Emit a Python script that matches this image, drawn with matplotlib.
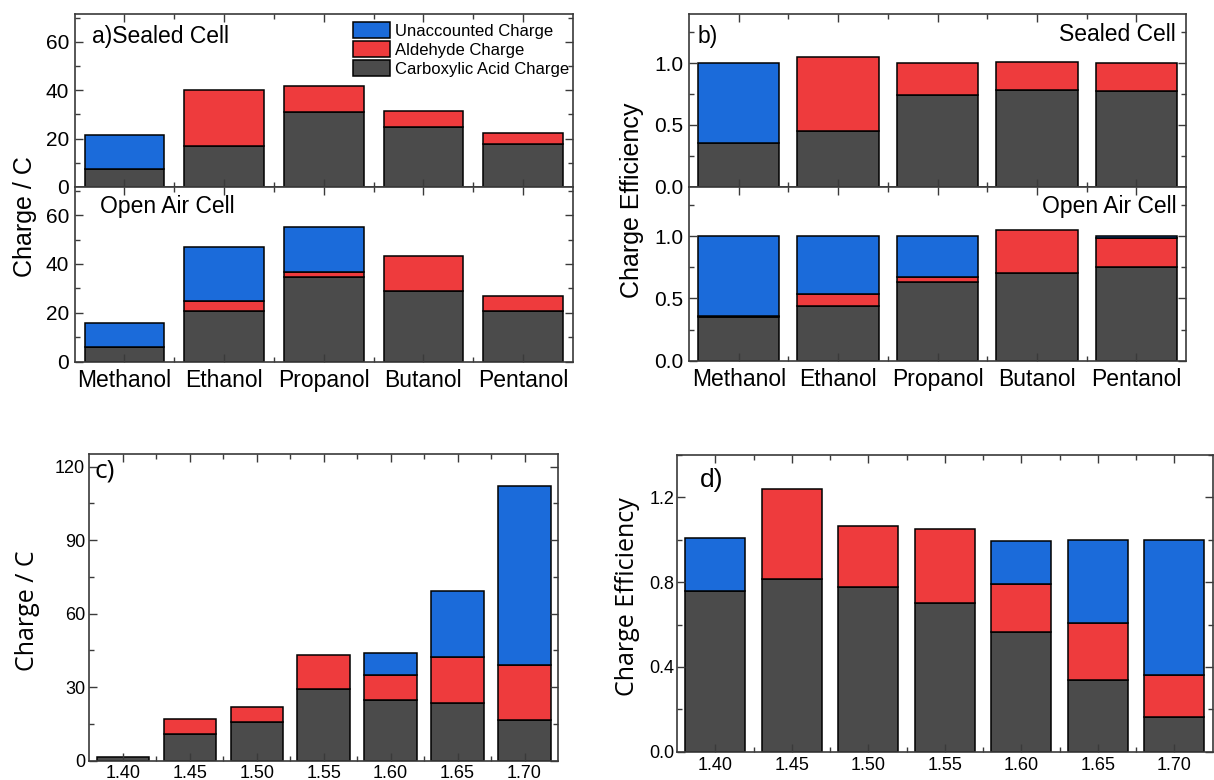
import numpy as np
import matplotlib
matplotlib.use("Agg")
import matplotlib.pyplot as plt
from matplotlib import font_manager
from matplotlib.patches import Patch
from matplotlib.ticker import MultipleLocator, FormatStrFormatter

# ---------------- data ----------------
alcohols = ["Methanol", "Ethanol", "Propanol", "Butanol", "Pentanol"]

# charge (C), sealed cell
sealed_acid = [7.4, 17.1, 30.9, 24.7, 17.7]
sealed_ald = [0.0, 23.1, 10.9, 6.9, 4.7]
sealed_unacc = [14.0, 0.0, 0.0, 0.0, 0.0]

# charge (C), open air cell
open_acid = [5.9, 20.6, 34.5, 28.8, 20.6]
open_ald = [0.2, 4.4, 2.1, 14.3, 6.4]
open_unacc = [9.7, 21.8, 18.6, 0.0, 0.0]

# charge efficiency, sealed cell
sealed_eff_acid = [0.355, 0.45, 0.74, 0.786, 0.775]
sealed_eff_ald = [0.0, 0.60, 0.26, 0.221, 0.225]
sealed_eff_unacc = [0.645, 0.0, 0.0, 0.0, 0.0]

# charge efficiency, open air cell
open_eff_acid = [0.35, 0.442, 0.63, 0.706, 0.757]
open_eff_ald = [0.012, 0.095, 0.04, 0.348, 0.233]
open_eff_unacc = [0.638, 0.463, 0.33, 0.0, 0.01]

# potential series
potentials = ["1.40", "1.45", "1.50", "1.55", "1.60", "1.65", "1.70"]
pot_acid = [1.6, 10.9, 15.7, 29.2, 24.8, 23.4, 16.8]
pot_ald = [0.0, 6.0, 6.4, 13.8, 10.1, 18.9, 22.4]
pot_unacc = [0.0, 0.0, 0.0, 0.0, 9.1, 27.1, 73.0]

pot_eff_acid = [0.756, 0.817, 0.775, 0.70, 0.565, 0.34, 0.163]
pot_eff_ald = [0.0, 0.423, 0.292, 0.349, 0.225, 0.267, 0.201]
pot_eff_unacc = [0.251, 0.0, 0.0, 0.0, 0.206, 0.393, 0.636]

series_names = ["Unaccounted Charge", "Aldehyde Charge", "Carboxylic Acid Charge"]

# ---------------- style ----------------
C_UNACC = "#1B6BDA"
C_ALD = "#EE3B3D"
C_ACID = "#4B4B4B"
SPINE = "#3a3a3a"

names = {f.name for f in font_manager.fontManager.ttflist}
MAIN = "Liberation Sans" if "Liberation Sans" in names else "DejaVu Sans"
ROUND = "Open Sans" if "Open Sans" in names else MAIN

plt.rcParams["font.family"] = [MAIN, "DejaVu Sans"]

W, H = 1214, 780
fig = plt.figure(figsize=(W / 100, H / 100), dpi=100)


def px_axes(left, top, right, bottom):
    return fig.add_axes([left / W, 1 - bottom / H, (right - left) / W, (bottom - top) / H])


def stack(ax, acid, ald, unacc, width):
    acid = np.asarray(acid, float)
    ald = np.asarray(ald, float)
    unacc = np.asarray(unacc, float)
    x = np.arange(len(acid))
    kw = dict(width=width, edgecolor="black", linewidth=1.1)
    bottoms = np.zeros(len(acid))
    for vals, col in ((acid, C_ACID), (ald, C_ALD), (unacc, C_UNACC)):
        m = vals > 0
        ax.bar(x[m], vals[m], bottom=bottoms[m], color=col, **kw)
        bottoms = bottoms + vals
    ax.set_xlim(-0.5, len(acid) - 0.5)


def style(ax, ymax, major, minor, labelsize, xlabels=None, xlabelsize=None,
          ypad=4, xpad=4):
    ax.set_ylim(0, ymax)
    ax.yaxis.set_major_locator(MultipleLocator(major))
    ax.yaxis.set_minor_locator(MultipleLocator(minor))
    n = int(round(ax.get_xlim()[1] + 0.5))
    ax.set_xticks(np.arange(n))
    ax.set_xticks(np.arange(n - 1) + 0.5, minor=True)
    if xlabels is not None:
        ax.set_xticklabels(xlabels, fontsize=xlabelsize)
    else:
        ax.set_xticklabels([])
    ax.tick_params(which="both", direction="in", top=True, right=True,
                   color=SPINE, width=1.0)
    ax.tick_params(which="major", length=6)
    ax.tick_params(which="minor", length=3.5)
    ax.tick_params(axis="y", labelsize=labelsize, pad=ypad)
    ax.tick_params(axis="x", pad=xpad)
    for s in ax.spines.values():
        s.set_color(SPINE)
        s.set_linewidth(1.2)


def ftext(x, y, s, **kw):
    fig.text(x / W, 1 - y / H, s, **kw)


# ---------------- panel a ----------------
ax_a1 = px_axes(74.6, 14, 572.9, 187)
ax_a2 = px_axes(74.6, 187, 572.9, 361.7)
stack(ax_a1, sealed_acid, sealed_ald, sealed_unacc, 0.8)
stack(ax_a2, open_acid, open_ald, open_unacc, 0.8)
style(ax_a1, 71.5, 20, 10, 15)
style(ax_a2, 71.5, 20, 10, 15, alcohols, 16.5, xpad=5)

handles = [Patch(facecolor=c, edgecolor="black", linewidth=1.1)
           for c in (C_UNACC, C_ALD, C_ACID)]
ax_a1.legend(handles, series_names, loc="upper left",
             bbox_to_anchor=(0.559, 0.954), frameon=False, borderpad=0,
             borderaxespad=0, handlelength=2.2, handleheight=1.15,
             labelspacing=0.12, handletextpad=0.3,
             prop=dict(family=MAIN, size=12))

ftext(92, 25, "a)Sealed Cell", fontsize=16.5, va="top", ha="left")
ftext(100, 195, "Open Air Cell", fontsize=16.5, va="top", ha="left")
ftext(25, 217, "Charge / C", fontsize=18, rotation=90, ha="center", va="center")

# ---------------- panel b ----------------
ax_b1 = px_axes(689, 14, 1186, 186.5)
ax_b2 = px_axes(689, 186.5, 1186, 360.7)
stack(ax_b1, sealed_eff_acid, sealed_eff_ald, sealed_eff_unacc, 0.82)
stack(ax_b2, open_eff_acid, open_eff_ald, open_eff_unacc, 0.82)
style(ax_b1, 1.4, 0.5, 0.25, 15)
style(ax_b2, 1.4, 0.5, 0.25, 15, alcohols, 16.5, xpad=5)
for ax in (ax_b1, ax_b2):
    ax.yaxis.set_major_formatter(FormatStrFormatter("%.1f"))

ftext(698, 25, "b)", fontsize=16.5, va="top", ha="left")
ftext(1176, 23, "Sealed Cell", fontsize=16.5, va="top", ha="right")
ftext(1177, 195, "Open Air Cell", fontsize=16.5, va="top", ha="right")
ftext(632, 200, "Charge Efficiency", fontsize=18, rotation=90,
      ha="center", va="center")

# ---------------- panel c ----------------
ax_c = px_axes(89.2, 454.3, 558, 760.7)
stack(ax_c, pot_acid, pot_ald, pot_unacc, 0.78)
style(ax_c, 125, 30, 15, 13, potentials, 13, ypad=3, xpad=3)
ftext(94, 458, "c)", fontsize=19, va="top", ha="left", family=ROUND)
ftext(27, 611, "Charge / C", fontsize=18, rotation=90, ha="center",
      va="center", family=ROUND)

# ---------------- panel d ----------------
ax_d = px_axes(677, 455, 1212.5, 751.7)
stack(ax_d, pot_eff_acid, pot_eff_ald, pot_eff_unacc, 0.79)
style(ax_d, 1.4, 0.4, 0.2, 13, potentials, 13, ypad=2, xpad=4)
ax_d.yaxis.set_major_formatter(FormatStrFormatter("%.1f"))
ftext(700, 468, "d)", fontsize=19, va="top", ha="left")
ftext(627, 597, "Charge Efficiency", fontsize=18, rotation=90, ha="center",
      va="center", family=ROUND)

fig.savefig("out.png", dpi=100)
